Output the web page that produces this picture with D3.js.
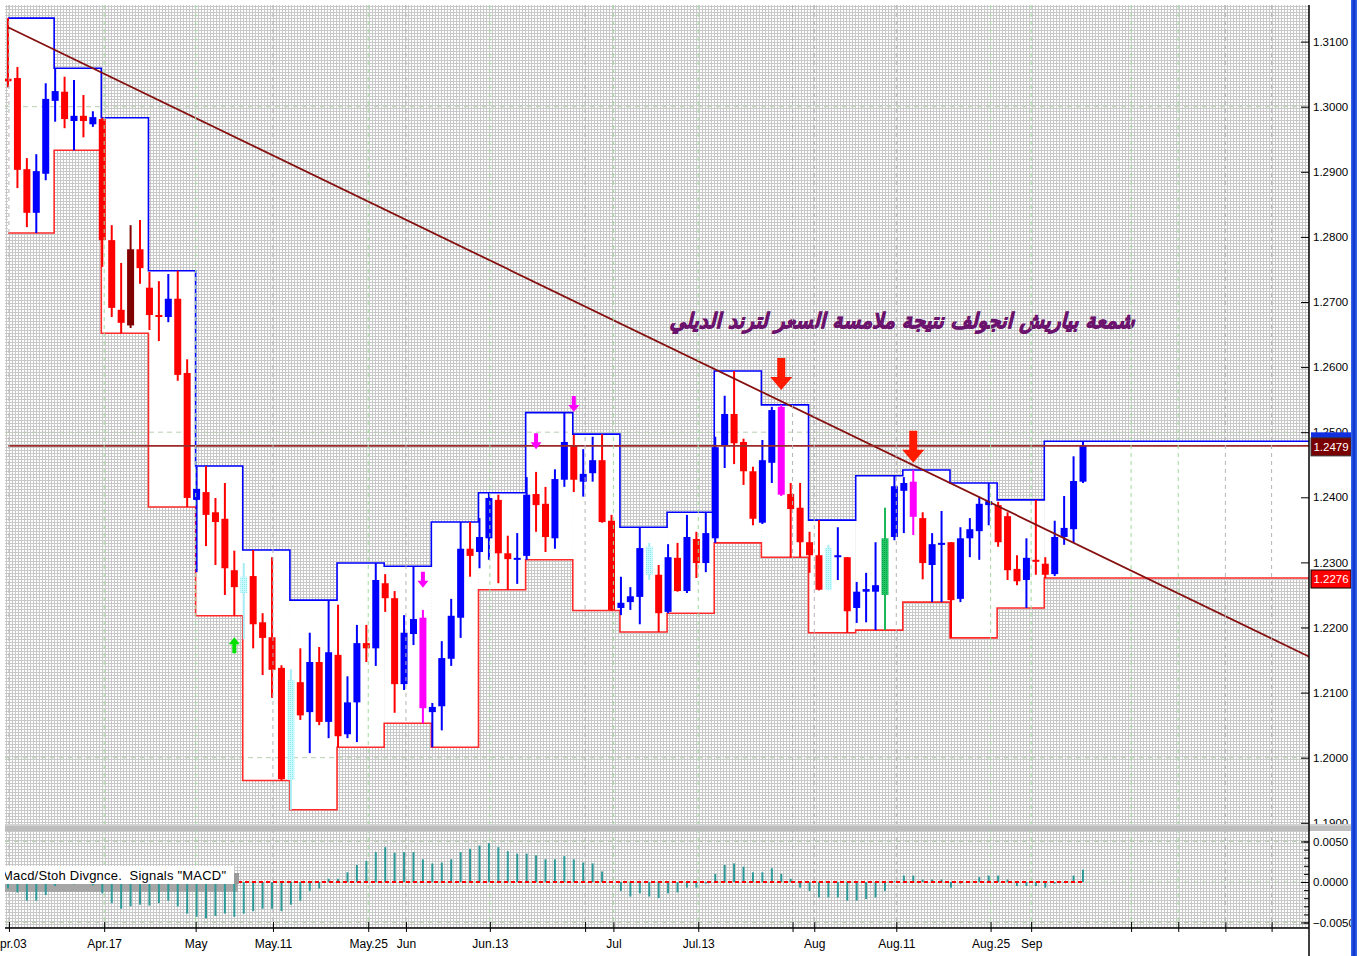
<!DOCTYPE html>
<html>
<head>
<meta charset="utf-8">
<title>daily candles with weekly channel</title>
<script src="https://d3js.org/d3.v7.min.js"></script>
<style>
  body { margin: 0; background: #fff; }
  text { font-family: "Liberation Sans", Arial, sans-serif; fill: #000; }
</style>
</head>
<body>
<script>
// daily bars
var opens = [1.3043,1.3044,1.2904,1.2837,1.2897,1.3009,1.3023,1.2978,1.2986,1.2973,
  1.2981,1.2795,1.2688,1.2781,1.2781,1.2722,1.2680,1.2677,1.2705,1.2591,
  1.2396,1.2408,1.2377,1.2367,1.2288,1.2253,1.2279,1.2208,1.2185,1.2138,
  1.1966,1.2116,1.2070,1.2147,1.2055,1.2158,1.2036,1.2085,1.2176,1.2168,
  1.2268,1.2245,1.2113,1.2190,1.2215,1.2070,1.2079,1.2152,1.2215,1.2321,
  1.2316,1.2337,1.2396,1.2314,1.2304,1.2310,1.2405,1.2390,1.2337,1.2427,
  1.2479,1.2424,1.2437,1.2457,1.2364,1.2230,1.2239,1.2247,1.2324,1.2281,
  1.2224,1.2307,1.2256,1.2336,1.2299,1.2337,1.2479,1.2528,1.2485,1.2440,
  1.2361,1.2453,1.2539,1.2405,1.2384,1.2331,1.2311,1.2322,1.2308,1.2308,
  1.2230,1.2255,1.2255,1.2250,1.2339,1.2410,1.2424,1.2368,1.2296,1.2328,
  1.2331,1.2244,1.2337,1.2348,1.2388,1.2388,1.2371,1.2290,1.2273,1.2304,
  1.2298,1.2282,1.2339,1.2351,1.2424];
var highs = [1.3136,1.3061,1.2921,1.2927,1.3036,1.3059,1.3046,1.3041,1.3018,1.2993,
  1.2983,1.2818,1.2760,1.2818,1.2826,1.2746,1.2732,1.2743,1.2748,1.2612,
  1.2447,1.2448,1.2399,1.2422,1.2318,1.2299,1.2319,1.2222,1.2308,1.2142,
  1.2136,1.2168,1.2192,1.2170,1.2242,1.2235,1.2125,1.2204,1.2204,1.2299,
  1.2282,1.2256,1.2219,1.2294,1.2227,1.2084,1.2179,1.2244,1.2362,1.2362,
  1.2368,1.2407,1.2404,1.2341,1.2345,1.2431,1.2439,1.2416,1.2443,1.2530,
  1.2496,1.2474,1.2493,1.2497,1.2373,1.2278,1.2262,1.2354,1.2330,1.2296,
  1.2328,1.2330,1.2373,1.2347,1.2377,1.2493,1.2556,1.2594,1.2490,1.2447,
  1.2488,1.2539,1.2542,1.2422,1.2422,1.2347,1.2365,1.2327,1.2354,1.2308,
  1.2270,1.2284,1.2331,1.2384,1.2433,1.2431,1.2442,1.2377,1.2345,1.2379,
  1.2331,1.2354,1.2368,1.2401,1.2422,1.2393,1.2377,1.2311,1.2337,1.2396,
  1.2308,1.2364,1.2402,1.2463,1.2486];
var lows = [1.3030,1.2875,1.2815,1.2806,1.2887,1.2977,1.2967,1.2933,1.2953,1.2969,
  1.2754,1.2677,1.2652,1.2660,1.2728,1.2657,1.2640,1.2669,1.2579,1.2385,
  1.2285,1.2325,1.2296,1.2250,1.2218,1.2182,1.2168,1.2127,1.2092,1.1965,
  1.1920,1.2058,1.2007,1.2050,1.2030,1.2016,1.2030,1.2024,1.2147,1.2141,
  1.2224,1.2069,1.2104,1.2173,1.2053,1.2016,1.2042,1.2141,1.2184,1.2278,
  1.2291,1.2304,1.2268,1.2258,1.2267,1.2304,1.2347,1.2316,1.2321,1.2416,
  1.2408,1.2401,1.2424,1.2361,1.2226,1.2219,1.2227,1.2205,1.2273,1.2193,
  1.2222,1.2255,1.2253,1.2276,1.2285,1.2330,1.2445,1.2451,1.2419,1.2357,
  1.2359,1.2422,1.2402,1.2308,1.2308,1.2284,1.2257,1.2257,1.2273,1.2192,
  1.2207,1.2208,1.2196,1.2196,1.2334,1.2345,1.2342,1.2274,1.2239,1.2239,
  1.2184,1.2239,1.2308,1.2304,1.2357,1.2324,1.2273,1.2265,1.2230,1.2281,
  1.2276,1.2279,1.2327,1.2330,1.2422];
var closes = [1.3039,1.2903,1.2837,1.2901,1.3012,1.3024,1.2981,1.2986,1.2978,1.2984,
  1.2795,1.2691,1.2668,1.2664,1.2752,1.2680,1.2677,1.2705,1.2588,1.2399,
  1.2413,1.2373,1.2362,1.2291,1.2262,1.2278,1.2205,1.2184,1.2135,1.1967,
  1.2119,1.2065,1.2147,1.2055,1.2162,1.2033,1.2085,1.2176,1.2168,1.2273,
  1.2245,1.2113,1.2192,1.2213,1.2076,1.2078,1.2153,1.2218,1.2321,1.2310,
  1.2339,1.2399,1.2314,1.2305,1.2307,1.2404,1.2388,1.2339,1.2428,1.2485,
  1.2427,1.2436,1.2457,1.2362,1.2227,1.2238,1.2248,1.2322,1.2281,1.2222,
  1.2308,1.2256,1.2339,1.2299,1.2345,1.2477,1.2528,1.2483,1.2440,1.2367,
  1.2457,1.2534,1.2404,1.2382,1.2331,1.2311,1.2258,1.2258,1.2311,1.2225,
  1.2255,1.2259,1.2265,1.2337,1.2417,1.2422,1.2370,1.2299,1.2328,1.2330,
  1.2242,1.2337,1.2351,1.2390,1.2394,1.2331,1.2288,1.2271,1.2307,1.2301,
  1.2281,1.2339,1.2353,1.2425,1.2479];

// macd histogram, one per bar
var macd = [-0.0008,-0.0013,-0.0023,-0.0023,-0.0016,-0.0005,0.0002,-0.0003,-0.0002,-0.0004,
  -0.0014,-0.0026,-0.0033,-0.0030,-0.0028,-0.0029,-0.0026,-0.0023,-0.0030,-0.0039,
  -0.0043,-0.0045,-0.0042,-0.0039,-0.0043,-0.0039,-0.0036,-0.0033,-0.0033,-0.0036,
  -0.0028,-0.0023,-0.0011,-0.0008,0.0004,0.0004,0.0012,0.0021,0.0026,0.0037,
  0.0043,0.0036,0.0037,0.0037,0.0028,0.0023,0.0024,0.0028,0.0037,0.0041,
  0.0045,0.0048,0.0043,0.0038,0.0035,0.0035,0.0033,0.0028,0.0028,0.0032,
  0.0028,0.0024,0.0023,0.0013,0.0000,-0.0011,-0.0018,-0.0014,-0.0018,-0.0020,
  -0.0014,-0.0013,-0.0007,-0.0007,-0.0002,0.0010,0.0021,0.0023,0.0019,0.0012,
  0.0012,0.0017,0.0010,0.0004,-0.0007,-0.0011,-0.0019,-0.0019,-0.0019,-0.0023,
  -0.0023,-0.0021,-0.0019,-0.0011,0.0001,0.0008,0.0008,0.0003,0.0003,0.0003,
  -0.0007,-0.0002,0.0000,0.0006,0.0008,0.0008,0.0003,-0.0005,-0.0005,-0.0005,
  -0.0007,-0.0002,-0.0001,0.0008,0.0015];

// bars painted in signal colours
var specialIdx = [13, 25, 30, 44, 68, 82, 87, 93, 96];
var specialKind = ['maroon', 'cyan', 'cyan', 'magenta', 'cyan', 'magenta', 'cyan', 'green', 'magenta'];

// signal arrows: bar, tip price, kind
var arrowIdx = [24, 44, 56, 60, 82, 96];
var arrowPrice = [1.2185, 1.2261, 1.2474, 1.2531, 1.2565, 1.2453];
var arrowKind = ['upGreen', 'downMagenta', 'downMagenta', 'downMagenta', 'downRed', 'downRed'];

// hand drawn trend line (bar index, price)
var trendIdx = [0, 138];
var trendPrice = [1.3122, 1.2155];

// time axis
var tickIdx = [0.1, 10.2, 19.9, 28.1, 38.2, 42.2, 51.1, 61.2, 64.2, 73.2, 83.2, 85.5, 94.2, 104.2, 108.5, 119.1, 124.1, 129.1, 134];
var tickLabels = ['Apr.03', 'Apr.17', 'May', 'May.11', 'May.25', 'Jun', 'Jun.13', '', 'Jul', 'Jul.13', '', 'Aug', 'Aug.11', 'Aug.25', 'Sep', '', '', '', ''];
var tickGreen = [0, 1, 1, 0, 1, 0, 1, 0, 1, 1, 0, 0, 0, 1, 1, 1, 1, 0, 0];

var priceTicks = [1.19, 1.20, 1.21, 1.22, 1.23, 1.24, 1.25, 1.26, 1.27, 1.28, 1.29, 1.30, 1.31];
var priceGrid = [1.20, 1.25, 1.30];
var macdTicks = [-0.005, 0, 0.005];

var note = 'شمعة بياريش انجولف نتيجة ملامسة السعر لترند الديلي';

var W = 1365, H = 956;
var plotL = 5, plotR = 1309, plotT = 5, priceB = 824, macdT = 831, macdB = 928;

var svg = d3.select('body').append('svg')
    .attr('width', W)
    .attr('height', H);

var defs = svg.append('defs');

var pat = defs.append('pattern').attr('id', 'mesh')
    .attr('width', 3).attr('height', 3).attr('patternUnits', 'userSpaceOnUse');
pat.append('rect').attr('width', 3).attr('height', 3).attr('fill', '#fff');
pat.append('rect').attr('width', 3).attr('height', 1).attr('fill', '#c8c8c8');
pat.append('rect').attr('width', 1).attr('height', 3).attr('fill', '#c8c8c8');

var cyan = defs.append('pattern').attr('id', 'cyanHatch')
    .attr('width', 2).attr('height', 2).attr('patternUnits', 'userSpaceOnUse');
cyan.append('rect').attr('width', 2).attr('height', 2).attr('fill', '#c8fbff');
cyan.append('rect').attr('width', 1).attr('height', 1).attr('fill', '#8fe6ee');

var green = defs.append('pattern').attr('id', 'greenHatch')
    .attr('width', 2).attr('height', 2).attr('patternUnits', 'userSpaceOnUse');
green.append('rect').attr('width', 2).attr('height', 2).attr('fill', '#22c866');
green.append('rect').attr('width', 1).attr('height', 1).attr('fill', '#0d9a45');

var blueBar = defs.append('linearGradient').attr('id', 'blueBar');
blueBar.append('stop').attr('offset', '0%').attr('stop-color', '#3a6cf0');
blueBar.append('stop').attr('offset', '50%').attr('stop-color', '#0a2fc8');
blueBar.append('stop').attr('offset', '100%').attr('stop-color', '#3a6cf0');

defs.append('clipPath').attr('id', 'clipPrice').append('rect')
    .attr('x', plotL).attr('y', plotT).attr('width', plotR - plotL).attr('height', priceB - plotT);
defs.append('clipPath').attr('id', 'clipMacd').append('rect')
    .attr('x', plotL).attr('y', macdT).attr('width', plotR - plotL).attr('height', macdB - macdT);

var x = d3.scaleLinear().domain([0, 114]).range([8, 1083]);
var y = d3.scaleLinear().domain([1.19, 1.31]).range([822.8, 41.6]);
var m = d3.scaleLinear().domain([-0.005, 0.005]).range([922.5, 841.5]);

// backgrounds
svg.append('rect').attr('x', plotL).attr('y', plotT)
    .attr('width', plotR - plotL).attr('height', priceB - plotT).attr('fill', 'url(#mesh)');
svg.append('rect').attr('x', plotL).attr('y', macdT)
    .attr('width', plotR - plotL).attr('height', macdB - macdT).attr('fill', 'url(#mesh)');

var bars = d3.range(opens.length).map(function(i) {
    var k = specialIdx.indexOf(i);
    return { i: i, o: opens[i], h: highs[i], l: lows[i], c: closes[i], kind: k < 0 ? null : specialKind[k] };
});

// weekly high / low channel, 5 bars a week
var weeks = d3.range(0, bars.length, 5).map(function(k) {
    var sl = bars.slice(k, k + 5);
    return {
        x0: k === 0 ? x(0) : x(k) - 1,
        x1: k + 5 < bars.length ? x(k + 5) - 1 : plotR,
        hi: d3.max(sl, function(d) { return d.h; }),
        lo: d3.min(sl, function(d) { return d.l; })
    };
});

var price = svg.append('g').attr('clip-path', 'url(#clipPrice)');

price.selectAll('rect.box')
    .data(weeks).enter()
    .append('rect')
    .attr('class', 'box')
    .attr('x', function(d) { return d.x0; })
    .attr('width', function(d) { return d.x1 - d.x0; })
    .attr('y', function(d) { return y(d.hi); })
    .attr('height', function(d) { return y(d.lo) - y(d.hi); })
    .attr('fill', '#fff');

// grid
var vgrid = svg.append('g');
tickIdx.forEach(function(t, i) {
    vgrid.append('line')
        .attr('x1', x(t)).attr('x2', x(t))
        .attr('y1', plotT).attr('y2', macdB)
        .attr('stroke', tickGreen[i] ? '#9fdc9f' : '#b4b4b4')
        .attr('stroke-width', 1)
        .attr('stroke-dasharray', '4,4');
});
price.selectAll('line.hgrid')
    .data(priceGrid).enter()
    .append('line')
    .attr('x1', plotL).attr('x2', plotR)
    .attr('y1', y).attr('y2', y)
    .attr('stroke', '#b8d0b0')
    .attr('stroke-dasharray', '5,4');

// channel lines
function stepLine(key) {
    var pts = weeks.map(function(d) { return [d.x0, y(d[key])]; });
    pts.push([plotR, y(weeks[weeks.length - 1][key])]);
    return d3.line().curve(d3.curveStepAfter)(pts);
}
price.append('path').attr('d', stepLine('hi'))
    .attr('fill', 'none').attr('stroke', '#0000ff').attr('stroke-width', 1.6);
price.append('path').attr('d', stepLine('lo'))
    .attr('fill', 'none').attr('stroke', '#ff2a2a').attr('stroke-width', 1.6);

// candles
function bodyFill(d) {
    if (d.kind === 'maroon') return '#800000';
    if (d.kind === 'cyan') return 'url(#cyanHatch)';
    if (d.kind === 'magenta') return '#ff00ff';
    if (d.kind === 'green') return 'url(#greenHatch)';
    return d.c >= d.o ? '#0000ff' : '#ff0000';
}
function wickColor(d) {
    if (d.kind === 'maroon') return '#800000';
    if (d.kind === 'cyan') return '#a6eef4';
    if (d.kind === 'magenta') return '#ff00ff';
    if (d.kind === 'green') return '#1cb85a';
    return d.c >= d.o ? '#0000ff' : '#ff0000';
}

var candles = price.selectAll('g.candle')
    .data(bars).enter()
    .append('g');

candles.append('line')
    .attr('x1', function(d) { return x(d.i); })
    .attr('x2', function(d) { return x(d.i); })
    .attr('y1', function(d) { return y(d.h); })
    .attr('y2', function(d) { return y(d.l); })
    .attr('stroke', wickColor)
    .attr('stroke-width', 2);

candles.append('rect')
    .attr('x', function(d) { return x(d.i) - 3.5; })
    .attr('width', 7)
    .attr('y', function(d) { return y(Math.max(d.o, d.c)); })
    .attr('height', function(d) { return Math.max(2, Math.abs(y(d.o) - y(d.c))); })
    .attr('fill', bodyFill);

// trend line and last price line
var lastClose = closes[closes.length - 1];
price.append('path')
    .attr('d', d3.line()(trendIdx.map(function(t, i) { return [x(t), y(trendPrice[i])]; })))
    .attr('stroke', '#861010').attr('stroke-width', 1.8).attr('fill', 'none');
price.append('line')
    .attr('x1', x(0)).attr('x2', plotR)
    .attr('y1', y(lastClose)).attr('y2', y(lastClose))
    .attr('stroke', '#9a2a2a').attr('stroke-width', 1.6);

// arrows
var arrowStyle = {
    upGreen: { fill: '#00e000', L: 16, sw: 4, hw: 11, hh: 7, dir: -1 },
    downMagenta: { fill: '#ff00ff', L: 16, sw: 4, hw: 11, hh: 7, dir: 1 },
    downRed: { fill: '#ff1a00', L: 32, sw: 8, hw: 22, hh: 13, dir: 1 }
};
arrowIdx.forEach(function(b, i) {
    var s = arrowStyle[arrowKind[i]];
    var cx = x(b), ty = y(arrowPrice[i]), d = s.dir;
    var pts = [
        [cx - s.sw / 2, ty - d * s.L], [cx + s.sw / 2, ty - d * s.L],
        [cx + s.sw / 2, ty - d * s.hh], [cx + s.hw / 2, ty - d * s.hh],
        [cx, ty],
        [cx - s.hw / 2, ty - d * s.hh], [cx - s.sw / 2, ty - d * s.hh]
    ];
    price.append('polygon')
        .attr('points', pts.map(function(p) { return p.join(','); }).join(' '))
        .attr('fill', s.fill);
});

// note
price.append('text')
    .attr('x', 902).attr('y', 328)
    .attr('direction', 'rtl')
    .style('text-anchor', 'middle')
    .style('font-family', '"DejaVu Sans", sans-serif')
    .style('font-weight', 'bold')
    .style('font-style', 'italic')
    .style('font-size', '21px')
    .style('fill', '#7e1f80')
    .style('stroke', '#6a126c')
    .style('stroke-width', '0.9px')
    .attr('textLength', 465)
    .attr('lengthAdjust', 'spacingAndGlyphs')
    .text(note);

// macd panel
var macdG = svg.append('g').attr('clip-path', 'url(#clipMacd)');
macdG.selectAll('line.mg')
    .data(macdTicks).enter()
    .append('line')
    .attr('x1', plotL).attr('x2', plotR)
    .attr('y1', m).attr('y2', m)
    .attr('stroke', '#b8d0b0')
    .attr('stroke-dasharray', '5,4');

macdG.append('rect')
    .attr('x', plotL).attr('y', 884).attr('width', 233).attr('height', 8)
    .attr('fill', '#a6a6a6');

macdG.selectAll('line.hist')
    .data(macd).enter()
    .append('line')
    .attr('x1', function(d, i) { return x(i); })
    .attr('x2', function(d, i) { return x(i); })
    .attr('y1', m(0))
    .attr('y2', function(d) { return m(d); })
    .attr('stroke', '#2e9a9a')
    .attr('stroke-width', 2);

macdG.append('line')
    .attr('x1', 238).attr('x2', x(114) + 2)
    .attr('y1', m(0)).attr('y2', m(0))
    .attr('stroke', '#ff0000').attr('stroke-width', 2)
    .attr('stroke-dasharray', '4,3');

macdG.append('rect')
    .attr('x', plotL).attr('y', 866).attr('width', 229).attr('height', 18)
    .attr('fill', '#fff');
macdG.append('rect')
    .attr('x', 234).attr('y', 873).attr('width', 5).attr('height', 11)
    .attr('fill', '#9a9a9a');
macdG.append('text')
    .attr('x', 2).attr('y', 880)
    .style('font-size', '13px')
    .style('white-space', 'pre')
    .attr('textLength', 224)
    .text('Macd/Stoh Divgnce.  Signals "MACD"');

// right price axis
var yAxis = d3.axisRight(y)
    .tickValues(priceTicks)
    .tickSizeInner(-8)
    .tickSizeOuter(0)
    .tickPadding(4)
    .tickFormat(d3.format('.4f'));
var yg = svg.append('g')
    .attr('transform', 'translate(' + plotR + ',0)')
    .call(yAxis);
yg.select('.domain').remove();
yg.selectAll('text').style('font-size', '11.5px').attr('font-family', null);

// current value tags
var weekHi = weeks[weeks.length - 1].hi, weekLo = weeks[weeks.length - 1].lo;
svg.append('rect')
    .attr('x', 1311).attr('y', y(weekHi) - 9).attr('width', 40).attr('height', 18)
    .attr('fill', '#1030e0');
svg.append('rect')
    .attr('x', 1311).attr('y', y(lastClose) - 8).attr('width', 40).attr('height', 18)
    .attr('fill', '#7a0000').attr('stroke', '#333').attr('stroke-width', 1);
svg.append('text')
    .attr('x', 1331).attr('y', y(lastClose) + 5)
    .style('text-anchor', 'middle').style('font-size', '11.5px').style('fill', '#fff')
    .text(d3.format('.4f')(lastClose));
svg.append('rect')
    .attr('x', 1311).attr('y', y(weekLo) - 8).attr('width', 40).attr('height', 18)
    .attr('fill', '#ff0000').attr('stroke', '#000').attr('stroke-width', 1);
svg.append('text')
    .attr('x', 1331).attr('y', y(weekLo) + 5)
    .style('text-anchor', 'middle').style('font-size', '11.5px').style('fill', '#fff')
    .text(d3.format('.4f')(weekLo));

// macd axis
var mMinor = svg.append('g')
    .attr('transform', 'translate(' + plotR + ',0)')
    .call(d3.axisRight(m).ticks(10).tickSizeInner(-5).tickSizeOuter(0).tickFormat(''));
mMinor.select('.domain').remove();
var mg = svg.append('g')
    .attr('transform', 'translate(' + plotR + ',0)')
    .call(d3.axisRight(m).tickValues(macdTicks).tickSizeInner(-8).tickSizeOuter(0)
        .tickPadding(4).tickFormat(d3.format('.4f')));
mg.select('.domain').remove();
mg.selectAll('text').style('font-size', '11.5px').attr('font-family', null);

// panel separator
svg.append('rect').attr('x', plotL).attr('y', priceB).attr('width', 1346).attr('height', 7)
    .attr('fill', '#bdbdbd');
svg.append('line').attr('x1', plotL).attr('x2', 1351).attr('y1', priceB + 1).attr('y2', priceB + 1)
    .attr('stroke', '#e4e4e4');

// time axis
var xAxis = d3.axisBottom(x)
    .tickValues(tickIdx)
    .tickSize(10)
    .tickPadding(7)
    .tickFormat(function(d, i) { return tickLabels[i]; });
var xg = svg.append('g')
    .attr('transform', 'translate(0,' + (macdB - 6) + ')')
    .call(xAxis);
xg.select('.domain').remove();
xg.selectAll('text').style('font-size', '12px').attr('font-family', null);

svg.append('line').attr('x1', plotL).attr('x2', plotR)
    .attr('y1', macdB).attr('y2', macdB).attr('stroke', '#000').attr('stroke-width', 1.5);
svg.append('line').attr('x1', plotR).attr('x2', plotR)
    .attr('y1', plotT).attr('y2', H).attr('stroke', '#000').attr('stroke-width', 1.5);

// right edge bar
svg.append('rect').attr('x', 1351).attr('y', 0).attr('width', 6).attr('height', H)
    .attr('fill', 'url(#blueBar)');
</script>
</body>
</html>
